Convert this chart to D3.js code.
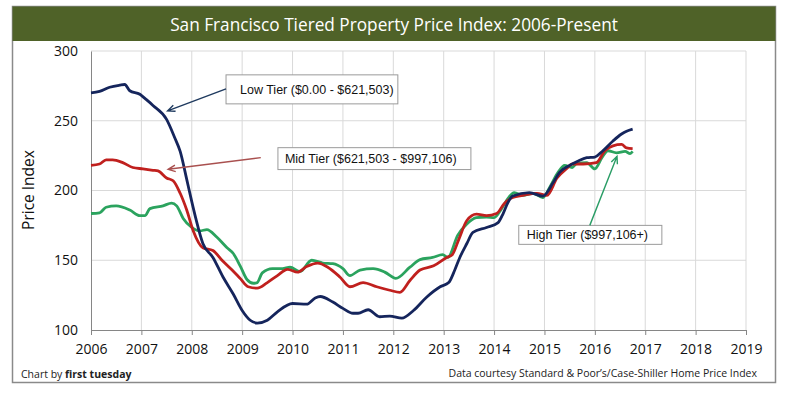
<!DOCTYPE html>
<html>
<head>
<meta charset="utf-8">
<script src="https://cdn.jsdelivr.net/npm/d3@7"></script>
<style>
  body { margin: 0; background: #fff; }
  text { font-family: "Open Sans", sans-serif; }
</style>
</head>
<body>
<div id="graph"></div>
<script>
// monthly-ish readings [year, index]
var lowTier = [[2006.0,270],[2006.17,271],[2006.37,274],[2006.57,275.5],[2006.67,276],[2006.77,271.5],[2006.97,269],[2007.07,266],[2007.23,261],[2007.5,251],[2007.66,238],[2007.77,228],[2007.9,208],[2008.0,192],[2008.08,180],[2008.22,162],[2008.42,152],[2008.62,138],[2008.82,126],[2009.0,114],[2009.16,107],[2009.3,105],[2009.5,107],[2009.7,113],[2010.0,119],[2010.28,118.5],[2010.45,123],[2010.55,124],[2010.8,120],[2011.0,115.5],[2011.2,112],[2011.3,112],[2011.5,114.5],[2011.73,109.5],[2011.93,110],[2012.17,108.5],[2012.4,114],[2012.66,123.5],[2012.93,131],[2013.1,134],[2013.22,143],[2013.32,152],[2013.46,162],[2013.58,170],[2013.85,173.5],[2014.08,177],[2014.18,183.5],[2014.27,191],[2014.37,196],[2014.7,198.5],[2014.97,196],[2015.17,205.5],[2015.3,213],[2015.5,218],[2015.66,221],[2015.84,223.5],[2016.0,224],[2016.16,228.5],[2016.36,235.5],[2016.53,240.5],[2016.63,242.5],[2016.75,244]]

var midTier = [[2006.0,218],[2006.17,219],[2006.3,222],[2006.43,222],[2006.63,220],[2006.83,216.5],[2007.03,215.5],[2007.23,214.5],[2007.33,214],[2007.5,209],[2007.63,207],[2007.77,198],[2007.9,186],[2008.03,171],[2008.22,159],[2008.42,157],[2008.6,150],[2008.8,143],[2008.96,137],[2009.12,131],[2009.3,130],[2009.5,134],[2009.7,139],[2009.9,143.5],[2010.1,141.5],[2010.28,145.5],[2010.5,148],[2010.7,145],[2010.94,138],[2011.14,131],[2011.4,134],[2011.67,131],[2011.93,128.5],[2012.13,127],[2012.33,135.5],[2012.53,143],[2012.8,146],[2013.06,152],[2013.17,154],[2013.3,165],[2013.46,178.5],[2013.65,183],[2013.85,182],[2014.05,183.5],[2014.2,190.5],[2014.37,195],[2014.57,196.5],[2014.85,198],[2015.05,196.5],[2015.25,209],[2015.45,216],[2015.55,219],[2015.77,219],[2016.03,220],[2016.2,228.5],[2016.36,232],[2016.53,233],[2016.63,230.5],[2016.75,230]]

var highTier = [[2006.0,183.5],[2006.17,184],[2006.3,188],[2006.5,189],[2006.77,186],[2006.97,182],[2007.07,182],[2007.17,187],[2007.43,189],[2007.6,191],[2007.7,189],[2007.83,180],[2008.0,173.5],[2008.16,171],[2008.3,172],[2008.5,166.5],[2008.7,159],[2008.82,155],[2008.96,146],[2009.1,136],[2009.22,133.5],[2009.3,134],[2009.4,141],[2009.6,144],[2009.8,144],[2009.95,145],[2010.15,142],[2010.38,150],[2010.6,148],[2010.8,147.5],[2011.0,144],[2011.14,139],[2011.34,143],[2011.6,144],[2011.83,141.5],[2012.05,137],[2012.33,145],[2012.53,150.5],[2012.78,152],[2012.98,154],[2013.08,152],[2013.28,168],[2013.46,176],[2013.65,180.5],[2013.85,181],[2014.0,180.5],[2014.15,187],[2014.27,194],[2014.4,198.5],[2014.57,196.5],[2014.77,198],[2014.97,195],[2015.1,202],[2015.27,213],[2015.4,218],[2015.55,216.5],[2015.63,219],[2015.84,220],[2016.0,215.5],[2016.14,223.5],[2016.26,228.5],[2016.43,227],[2016.6,228],[2016.7,226.5],[2016.75,228]]

var years = d3.range(2006, 2020)
var yTicks = [100, 150, 200, 250, 300]

// callouts: box corners + arrow in data units
var notes = [
  {text: 'Low Tier ($0.00 - $621,503)', x0: 2008.68, x1: 2012.09, y0: 282.9, y1: 262.1, pad: 14, from: [2008.68, 272.9], to: [2007.52, 257.1], color: '#1f3a5f'},
  {text: 'Mid Tier ($621,503 - $997,106)', x0: 2009.71, x1: 2013.54, y0: 230.7, y1: 215, pad: 7, from: [2009.37, 223.6], to: [2007.53, 215.2], color: '#a9504f'},
  {text: 'High Tier ($997,106+)', x0: 2014.49, x1: 2017.33, y0: 175, y1: 161.4, pad: 8, from: [2015.9, 175], to: [2016.44, 224.5], color: '#2a9d66'}
]

var series = [
  {name: 'high', values: highTier, color: '#2ba35e'},
  {name: 'mid', values: midTier, color: '#c0201e'},
  {name: 'low', values: lowTier, color: '#15255c'}
]

var width = 800, height = 395
var svg = d3.select('#graph').append('svg')
  .attr('width', width).attr('height', height)

var x = d3.scaleLinear().domain([2006, 2019]).range([91, 746])
var y = d3.scaleLinear().domain([100, 300]).range([330, 51])

// frame + title bar
svg.append('rect')
  .attr('x', 12.5).attr('y', 6.5).attr('width', 763).attr('height', 376)
  .attr('fill', '#fff').attr('stroke', '#8a8a8a').attr('stroke-width', 1.5)
svg.append('rect')
  .attr('x', 12.5).attr('y', 6.5).attr('width', 763).attr('height', 34.5)
  .attr('fill', '#4f6228')

var title = svg.append('text')
  .attr('x', 394).attr('y', 30.5)
  .attr('text-anchor', 'middle')
  .attr('fill', '#fff')
  .style('font-size', '18px')
  .text('San Francisco Tiered Property Price Index: 2006-Present')
var tw = title.node().getComputedTextLength()
title.style('font-size', (18 * 448 / tw) + 'px')

// grid
svg.append('g').selectAll('line')
  .data(yTicks.slice(1))
  .join('line')
  .attr('x1', x(2006)).attr('x2', x(2019))
  .attr('y1', d => y(d)).attr('y2', d => y(d))
  .attr('stroke', '#d9d9d9')

svg.append('g').selectAll('line')
  .data(years.slice(1))
  .join('line')
  .attr('x1', d => x(d)).attr('x2', d => x(d))
  .attr('y1', y(300)).attr('y2', y(100))
  .attr('stroke', '#d9d9d9')

// axes
var xAxis = svg.append('g')
  .attr('transform', 'translate(0,' + y(100) + ')')
  .call(d3.axisBottom(x).tickValues(years).tickFormat(d3.format('d')).tickSize(5).tickPadding(9))
xAxis.select('.domain').attr('stroke', '#868686')
xAxis.selectAll('.tick line').attr('stroke', '#868686')
xAxis.selectAll('text').style('font-size', '14px').attr('fill', '#111')
  .style('font-family', '"Open Sans", sans-serif')

var yAxis = svg.append('g')
  .attr('transform', 'translate(' + x(2006) + ',0)')
  .call(d3.axisLeft(y).tickValues(yTicks).tickSize(0).tickPadding(13))
yAxis.select('.domain').attr('stroke', '#868686')
yAxis.selectAll('text').style('font-size', '14px').attr('fill', '#111')
  .style('font-family', '"Open Sans", sans-serif')

svg.append('text')
  .attr('transform', 'translate(34,190) rotate(-90)')
  .attr('text-anchor', 'middle')
  .style('font-size', '15.5px')
  .attr('fill', '#111')
  .text('Price Index')

// lines
var line = d3.line()
  .x(d => x(d[0]))
  .y(d => y(d[1]))
  .curve(d3.curveMonotoneX)

svg.append('g').selectAll('path')
  .data(series)
  .join('path')
  .attr('d', d => line(d.values))
  .attr('fill', 'none')
  .attr('stroke', d => d.color)
  .attr('stroke-width', 2.8)
  .attr('stroke-linejoin', 'round')

// callouts
var noteSel = svg.append('g').selectAll('g')
  .data(notes)
  .join('g')

noteSel.append('rect')
  .attr('x', d => x(d.x0)).attr('y', d => y(d.y0))
  .attr('width', d => x(d.x1) - x(d.x0))
  .attr('height', d => y(d.y1) - y(d.y0))
  .attr('fill', '#fff')
  .attr('stroke', '#9a9a9a')

noteSel.append('text')
  .attr('x', d => x(d.x0) + d.pad)
  .attr('y', d => (y(d.y0) + y(d.y1)) / 2)
  .attr('dy', '0.36em')
  .style('font-family', '"Liberation Sans", Arial, sans-serif')
  .style('font-size', '12.5px')
  .attr('fill', '#111')
  .text(d => d.text)

noteSel.append('path')
  .attr('d', d => {
    var x0 = x(d.from[0]), y0 = y(d.from[1])
    var x1 = x(d.to[0]), y1 = y(d.to[1])
    var a = Math.atan2(y1 - y0, x1 - x0)
    var h = 8, s = 0.42
    var p1 = [x1 - h * Math.cos(a - s), y1 - h * Math.sin(a - s)]
    var p2 = [x1 - h * Math.cos(a + s), y1 - h * Math.sin(a + s)]
    return 'M' + x0 + ',' + y0 + 'L' + x1 + ',' + y1 +
      'M' + p1 + 'L' + x1 + ',' + y1 + 'L' + p2
  })
  .attr('fill', 'none')
  .attr('stroke', d => d.color)
  .attr('stroke-width', 1.4)

// footer
svg.append('text')
  .attr('x', 21).attr('y', 378)
  .style('font-size', '10.5px')
  .attr('fill', '#222')
  .call(t => {
    t.append('tspan').text('Chart by ')
    t.append('tspan').style('font-weight', 'bold').text('first tuesday')
  })

svg.append('text')
  .attr('x', 757).attr('y', 377)
  .attr('text-anchor', 'end')
  .style('font-size', '10.5px')
  .attr('fill', '#222')
  .text('Data courtesy Standard & Poor\u2019s/Case-Shiller Home Price Index')
</script>
</body>
</html>
